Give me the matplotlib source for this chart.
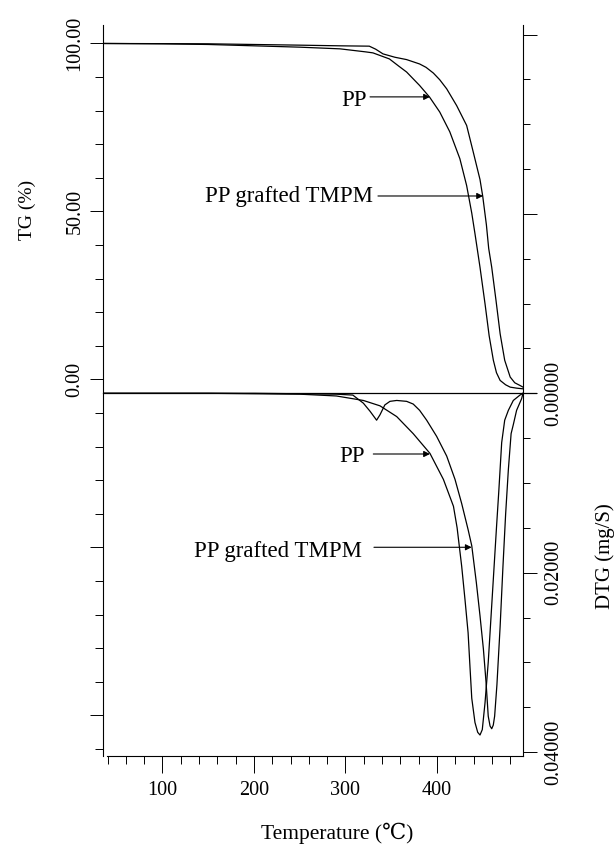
import numpy as np
import matplotlib
matplotlib.use('Agg')
import matplotlib.pyplot as plt
from matplotlib.ticker import MultipleLocator

plt.rcParams['font.family'] = ['Liberation Serif', 'DejaVu Serif']

# TG curves (temperature in C, mass in %)
tg_pp_t = [35, 100, 150, 200, 250, 294, 322, 330, 348, 358, 366.8, 381, 392, 403, 414,
           425, 432.4, 438, 441.5, 447, 452.5, 457, 461.6, 465, 469, 475, 480, 487, 494]
tg_pp = [100.0, 99.9, 99.7, 99.3, 98.9, 98.4, 97.5, 97.2, 95.4, 93.3, 91.5, 87.5, 84.0, 79.6, 73.7,
         65.7, 57.7, 49.5, 43.4, 33.4, 22.5, 13.0, 5.7, 2.0, -0.3, -1.6, -2.3, -2.6, -2.8]

tg_tmpm_t = [35, 150, 250, 294, 326, 333, 341, 354, 366.8, 381, 388, 396, 403, 410.6, 421.5,
             432.4, 439.7, 447, 450, 454, 456.5, 459.8, 464.5, 469, 474, 480, 485, 490.7, 494]
tg_tmpm = [100.0, 99.9, 99.5, 99.3, 99.2, 98.3, 96.9, 95.9, 95.2, 93.9, 92.9, 91.2, 89.2, 86.5,
           81.5, 75.6, 67.6, 59.5, 54.5, 46.0, 39.0, 33.4, 23.5, 13.6, 5.7, 0.7, -1.0, -1.8, -2.3]

# DTG curves (mg/S)
dtg_pp_t = [35, 150, 200, 250, 290, 319.5, 337.7, 356, 374, 392.3, 407, 418, 422, 427, 430.6,
            434, 436, 438, 441.5, 444.5, 447, 449.5, 452.5, 456, 459, 462, 465, 467.5, 470.7,
            474, 478, 483.4, 490.7, 494]
dtg_pp = [0, 0, 0.00005, 0.0001, 0.0003, 0.0008, 0.0014, 0.0026, 0.0045, 0.0067, 0.0096, 0.0126,
          0.0150, 0.0193, 0.0230, 0.0267, 0.0304, 0.0340, 0.0367, 0.0378, 0.0381, 0.0375, 0.0345,
          0.0300, 0.0250, 0.0200, 0.0150, 0.0110, 0.0055, 0.0030, 0.0019, 0.0008, 0.0002, 0]

dtg_tmpm_t = [35, 200, 290, 308, 319.5, 326.8, 334, 337.7, 343, 348.6, 356, 366.8, 374, 381,
              388.7, 399.6, 410.6, 419.7, 427, 434, 438, 443, 447, 450.7, 453.6, 456, 458,
              459.8, 461.5, 463, 465.5, 469, 472, 475, 478, 481, 483.4, 487, 492.5, 494]
dtg_tmpm = [0, 0, 0.0001, 0.0002, 0.0011, 0.0020, 0.0030, 0.0024, 0.0013, 0.0009, 0.0008, 0.0009,
            0.0012, 0.0019, 0.0030, 0.0048, 0.0070, 0.0096, 0.0123, 0.0152, 0.0170, 0.0211, 0.0248,
            0.0285, 0.0322, 0.0360, 0.0371, 0.0374, 0.0370, 0.0360, 0.0325, 0.0260, 0.0195, 0.0135,
            0.0085, 0.0045, 0.0035, 0.0019, 0.0006, 0]

x_major = [100, 200, 300, 400]
tg_ticks = [-100, -50, 0, 50, 100]
tg_labels = ['', '', '0.00', '50.00', '100.00']
dtg_ticks = [-0.04, -0.02, 0, 0.02, 0.04]
dtg_labels = ['', '', '0.00000', '0.02000', '0.04000']

fig = plt.figure(figsize=(6.16, 8.47), dpi=100)
ax = fig.add_axes([0.16721, 0.10744, 0.68182, 0.86305])
ax2 = ax.twinx()

lw = 0.9
ax.plot(tg_pp_t, tg_pp, color='k', lw=lw)
ax.plot(tg_tmpm_t, tg_tmpm, color='k', lw=lw)
ax2.plot(dtg_pp_t, dtg_pp, color='k', lw=lw)
ax2.plot(dtg_tmpm_t, dtg_tmpm, color='k', lw=lw)
ax2.axhline(0, xmin=0, xmax=1.03, color='k', lw=lw, clip_on=False)

ax.set_xlim(35, 494)
ax.set_ylim(-112.1, 105.5)
ax2.set_ylim(0.04044, -0.04106)

# spines
ax.spines['top'].set_visible(False)
ax.spines['right'].set_visible(False)
for s in ['top', 'left', 'bottom']:
    ax2.spines[s].set_visible(False)
ax.spines['bottom'].set_bounds(39.5, 494)
for sp in [ax.spines['left'], ax.spines['bottom'], ax2.spines['right']]:
    sp.set_linewidth(0.8)

# ticks
ax.set_xticks(x_major)
ax.xaxis.set_minor_locator(MultipleLocator(20))
ax.set_yticks(tg_ticks)
ax.set_yticklabels(tg_labels)
ax.yaxis.set_minor_locator(MultipleLocator(10))
ax2.set_yticks(dtg_ticks)
ax2.set_yticklabels(dtg_labels)
ax2.yaxis.set_minor_locator(MultipleLocator(0.005))

ax.tick_params(axis='x', which='major', direction='out', length=12, width=0.7, pad=6, labelsize=14.5)
ax.tick_params(axis='x', which='minor', direction='out', length=6, width=0.7)
ax.tick_params(axis='y', which='major', direction='out', length=9.5, width=0.7, pad=4, labelsize=14.5)
ax.tick_params(axis='y', which='minor', direction='out', length=5.5, width=0.7)
ax2.tick_params(axis='y', which='major', direction='out', length=10, width=0.7, pad=5, labelsize=14.5)
ax2.tick_params(axis='y', which='minor', direction='out', length=5, width=0.7)

for t in ax.get_yticklabels():
    t.set_rotation(90)
    t.set_va('center')
for t in ax2.get_yticklabels():
    t.set_rotation(90)
    t.set_va('center')

# axis labels
ax.set_ylabel('TG (%)', fontsize=14)
ax.yaxis.label.set_va('center')
ax.yaxis.set_label_coords(-0.181, 0.747)
ax2.set_ylabel('DTG (mg/S)', fontsize=15)
ax2.yaxis.label.set_va('center')
ax2.yaxis.label.set_rotation(90)
ax2.yaxis.set_label_coords(1.195, 0.2736)
ax.set_xlabel('Temperature (℃)', fontsize=15.5)
ax.xaxis.label.set_va('baseline')
ax.xaxis.set_label_coords(0.5564, -0.1135)

# annotations
ap = dict(arrowstyle='-|>', color='k', lw=0.8, mutation_scale=9, shrinkA=0, shrinkB=0)
fs = 16.5
ax.text(323.2, 81.3, 'PP', ha='right', va='baseline', fontsize=fs)
ax.annotate('', xy=(392.3, 84.1), xytext=(326.8, 84.1), arrowprops=ap)
ax.text(330.4, 52.9, 'PP grafted TMPM', ha='right', va='baseline', fontsize=fs)
ax.annotate('', xy=(450.3, 54.6), xytext=(335.5, 54.6), arrowprops=ap)
ax2.text(321.3, 0.00762, 'PP', ha='right', va='baseline', fontsize=fs)
ax2.annotate('', xy=(392.3, 0.00677), xytext=(330.4, 0.00677), arrowprops=ap)
ax2.text(317.7, 0.01821, 'PP grafted TMPM', ha='right', va='baseline', fontsize=fs)
ax2.annotate('', xy=(437.9, 0.01717), xytext=(331.1, 0.01717), arrowprops=ap)

fig.savefig('out.png', dpi=100)
